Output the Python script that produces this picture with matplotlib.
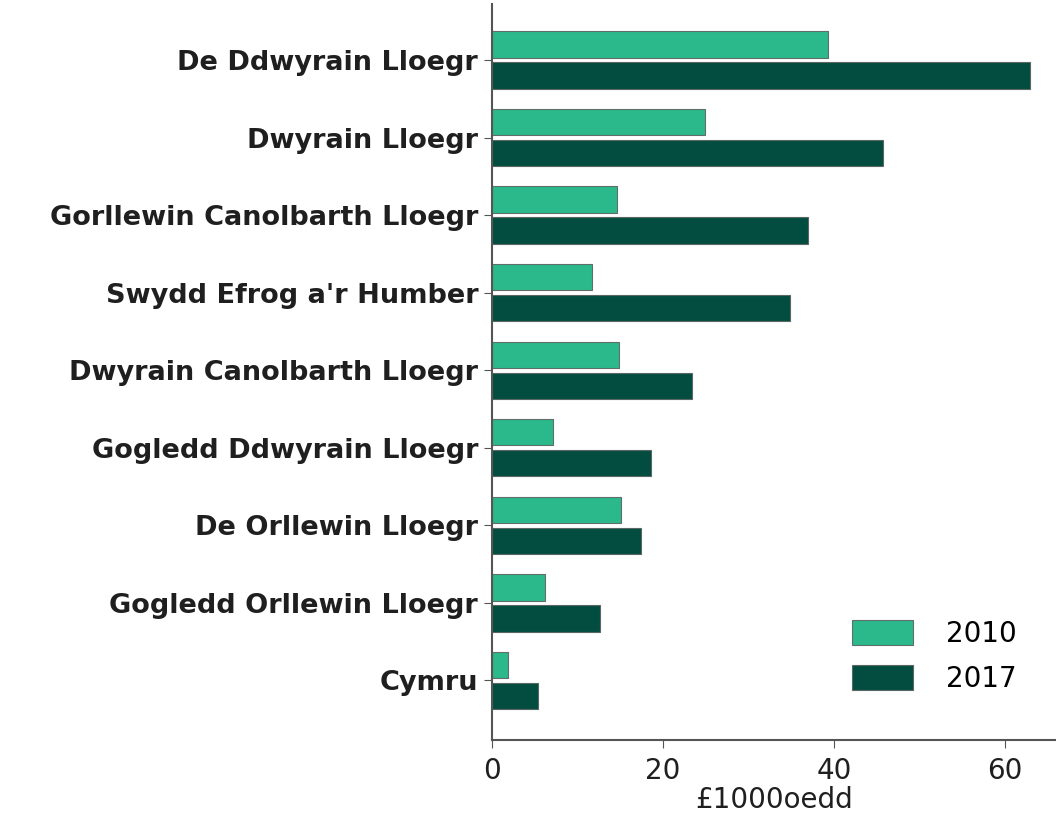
import numpy as np
from matplotlib import pyplot as plt

regions = ['De Ddwyrain Lloegr', 'Dwyrain Lloegr', 'Gorllewin Canolbarth Lloegr',
           "Swydd Efrog a'r Humber", 'Dwyrain Canolbarth Lloegr', 'Gogledd Ddwyrain Lloegr',
           'De Orllewin Lloegr', 'Gogledd Orllewin Lloegr', 'Cymru']
vals_2010 = [39.3, 24.9, 14.6, 11.7, 14.9, 7.1, 15.1, 6.2, 1.9]
vals_2017 = [62.9, 45.7, 37.0, 34.9, 23.4, 18.6, 17.4, 12.6, 5.4]
years = ['2010', '2017']

plt.rcParams['font.family'] = ['DejaVu Sans']

fig = plt.figure(figsize=(10.56, 8.27), dpi=100)
ax = fig.add_axes([0.466, 0.105, 0.534, 0.89])

y = np.arange(len(regions))
h = 0.34
ax.barh(y - 0.2, vals_2010, height=h, color='#2bb98b', edgecolor='#5f6e68', linewidth=0.8, label=years[0])
ax.barh(y + 0.2, vals_2017, height=h, color='#024d40', edgecolor='#5a6763', linewidth=0.8, label=years[1])

ax.set_yticks(y)
ax.set_yticklabels(regions, fontsize=19.5, fontweight='bold', color='#1f1f1f')
ax.set_ylim(len(regions) - 0.23, -0.72)
ax.set_xlim(0, 66)
ax.set_xticks([0, 20, 40, 60])
ax.tick_params(axis='x', labelsize=20, length=6, color='#555555', labelcolor='#1f1f1f', pad=6)
ax.tick_params(axis='y', length=6, color='#555555', pad=4)
ax.set_xlabel('£1000oedd', fontsize=20, color='#1f1f1f', labelpad=1)

for s in ['top', 'right']:
    ax.spines[s].set_visible(False)
for s in ['left', 'bottom']:
    ax.spines[s].set_color('#555555')
    ax.spines[s].set_linewidth(1.5)

ax.legend(loc='lower right', bbox_to_anchor=(0.975, 0.03), frameon=False, fontsize=20,
          handlelength=2.2, handleheight=1.0, labelspacing=0.6, handletextpad=1.2)

fig.savefig('out.png', dpi=100)
